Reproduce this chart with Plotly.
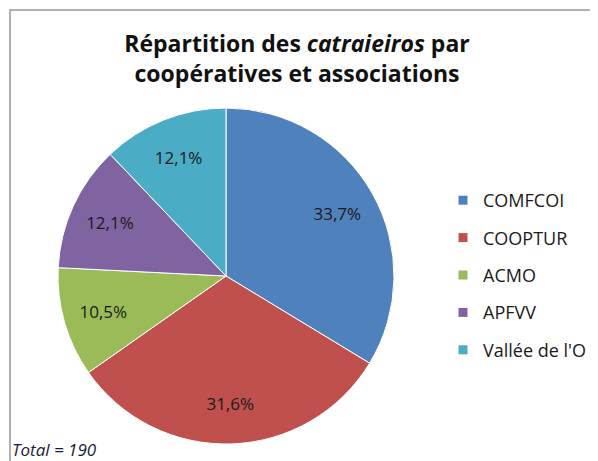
import plotly.graph_objects as go

categories = ["COMFCOI", "COOPTUR", "ACMO", "APFVV", "Vallée de l'O"]
counts = [64, 60, 20, 23, 23]
pct_labels = ["33,7%", "31,6%", "10,5%", "12,1%", "12,1%"]
colors = ["#4F81BD", "#C0504D", "#9BBB59", "#8064A2", "#4BACC6"]
total = 190

W, H = 598, 461
OFF = 8  # page body margin offset
FONT = "Open Sans"


def px(x):
    return (x - OFF) / W


def py(y):
    return 1 - (y - OFF) / H


CX, CY, R = 226, 276, 168
dom = dict(x=[px(CX - R), px(CX + R)], y=[py(CY + R), py(CY - R)])

fig = go.Figure()
# filled pie
fig.add_trace(go.Pie(
    labels=categories, values=counts,
    textinfo="none", sort=False, direction="clockwise", rotation=0,
    marker=dict(colors=colors, line=dict(color="white", width=1)),
    domain=dom, showlegend=False, hoverinfo="label+percent",
))
# transparent ring used only to place the percentage labels further out
fig.add_trace(go.Pie(
    labels=categories, values=counts, text=pct_labels, hole=0.52,
    textinfo="text", textposition="inside", insidetextorientation="horizontal",
    sort=False, direction="clockwise", rotation=0,
    marker=dict(colors=["rgba(0,0,0,0)"] * len(categories), line=dict(width=0)),
    textfont=dict(family=FONT, size=17, color="#1a1a1a"),
    domain=dom, showlegend=False, hoverinfo="skip",
))

# legend entries (one group each for spacing)
for i, (c, col) in enumerate(zip(categories, colors)):
    fig.add_trace(go.Scatter(
        x=[None], y=[None], mode="markers", name=c,
        marker=dict(symbol="square", size=9, color=col),
        legendgroup=f"g{i}", showlegend=True,
    ))

fig.update_layout(
    width=W, height=H,
    margin=dict(l=0, r=0, t=0, b=0),
    paper_bgcolor="white", plot_bgcolor="white",
    xaxis=dict(visible=False), yaxis=dict(visible=False),
    title=dict(
        text="<b>Répartition des <i>catraieiros</i> par<br>coopératives et associations</b>",
        x=px(297), xanchor="center", y=py(52), yanchor="top",
        font=dict(family=FONT, size=23, color="#111111"),
    ),
    legend=dict(
        x=px(443), xanchor="left", y=py(275), yanchor="middle",
        font=dict(family=FONT, size=18, color="#1a1a1a"),
        tracegroupgap=11, itemwidth=30, bgcolor="rgba(0,0,0,0)",
    ),
    shapes=[dict(
        type="path", xref="paper", yref="paper",
        path=f"M {px(10)} -0.1 L {px(10)} {py(10)} L 1.1 {py(10)}",
        line=dict(color="#999999", width=1.5),
    )],
    annotations=[dict(
        text=f"<i>Total = {total}</i>", xref="paper", yref="paper",
        x=px(11), y=py(449), xanchor="left", yanchor="middle", showarrow=False,
        font=dict(family=FONT, size=17, color="#1a1a3a"),
        bgcolor="white", borderpad=0,
    )],
)

fig.write_html("out.html")
